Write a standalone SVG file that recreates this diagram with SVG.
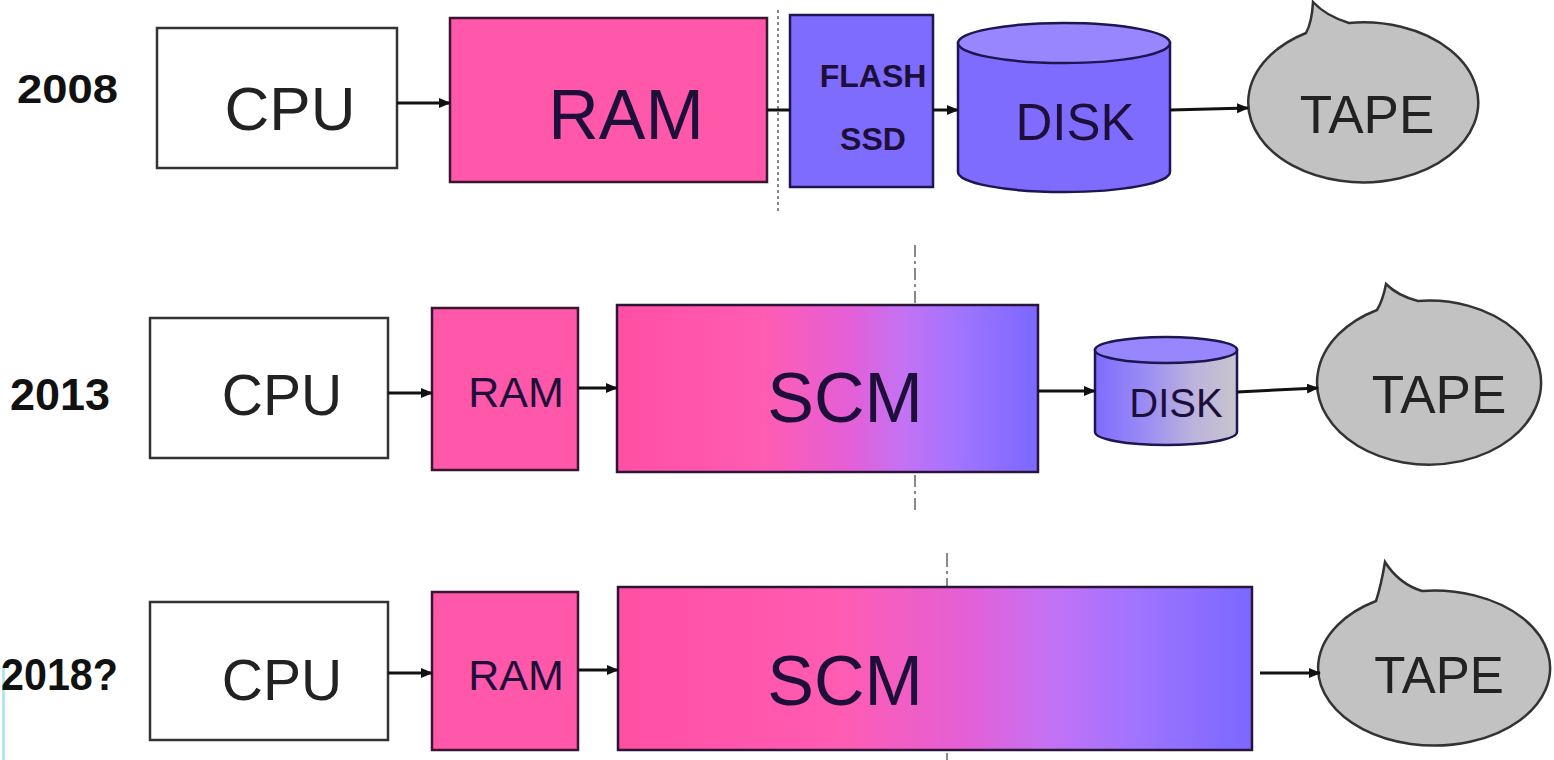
<svg xmlns="http://www.w3.org/2000/svg" width="1554" height="760" viewBox="0 0 1554 760">
  <defs>
    <linearGradient id="scm" x1="0" y1="0" x2="1" y2="0">
      <stop offset="0" stop-color="#ff4fa3"/>
      <stop offset="0.35" stop-color="#ff5cb2"/>
      <stop offset="0.55" stop-color="#e45fd6"/>
      <stop offset="0.68" stop-color="#c472f4"/>
      <stop offset="0.82" stop-color="#9f74ff"/>
      <stop offset="1" stop-color="#7a68ff"/>
    </linearGradient>
    <linearGradient id="disk2" x1="0" y1="0" x2="1" y2="0">
      <stop offset="0" stop-color="#7f6cff"/>
      <stop offset="0.35" stop-color="#9a8cf4"/>
      <stop offset="0.7" stop-color="#bcb4dc"/>
      <stop offset="1" stop-color="#c8c4cc"/>
    </linearGradient>
    <marker id="ah" markerWidth="12" markerHeight="10" refX="11" refY="5" orient="auto" markerUnits="userSpaceOnUse">
      <path d="M0,0 L12,5 L0,10 Z" fill="#111"/>
    </marker>
    <style>
      .lbl{font-family:"Liberation Sans",Arial,sans-serif;font-weight:bold;fill:#111}
      .t{font-family:"Liberation Sans",Arial,sans-serif;text-anchor:middle;fill:#222}
      .td{font-family:"Liberation Sans",Arial,sans-serif;text-anchor:middle;fill:#1e0f3a}
      .cpu{fill:#fff;stroke:#333;stroke-width:2.5}
      .ram{fill:#ff58aa;stroke:#3a1630;stroke-width:2.5}
      .blue{fill:#7e6cff;stroke:#1e1650;stroke-width:2.5}
      .bluetop{fill:#9886ff;stroke:#1e1650;stroke-width:2.5}
      .scm{fill:url(#scm);stroke:#2a1438;stroke-width:2.5}
      .tape{fill:#c2c2c2;stroke:#333;stroke-width:2.5}
      .conn line{stroke:#111;stroke-width:3}
      .arr{marker-end:url(#ah)}
      .div{stroke:#888;stroke-width:2;fill:none}
    </style>
  </defs>
  <rect width="1554" height="760" fill="#fff"/>
  <rect x="2" y="665" width="3" height="95" fill="#b4e6f0"/>

  <!-- year labels -->
  <g id="year-2008"><text class="lbl" x="17" y="103" font-size="40" textLength="101" lengthAdjust="spacingAndGlyphs">2008</text></g>
  <g id="year-2013"><text class="lbl" x="10" y="410" font-size="44" textLength="100" lengthAdjust="spacingAndGlyphs">2013</text></g>
  <g id="year-2018"><text class="lbl" x="1" y="690" font-size="44" textLength="117" lengthAdjust="spacingAndGlyphs">2018?</text></g>

  <!-- divider lines -->
  <g id="dividers">
    <line class="div" x1="778" y1="10" x2="778" y2="212" stroke-dasharray="3,3"/>
    <line class="div" x1="915" y1="245" x2="915" y2="512" stroke-dasharray="12,4,3,4"/>
    <line class="div" x1="947" y1="553" x2="947" y2="760" stroke-dasharray="14,4,3,4"/>
  </g>

  <!-- Row 2008 -->
  <g id="cpu-2008"><rect class="cpu" x="157" y="28" width="240" height="140"/><text class="t" x="290" y="130" font-size="62">CPU</text></g>
  <g id="ram-2008"><rect class="ram" x="450" y="18" width="317" height="164"/><text class="td" x="626" y="139" font-size="70">RAM</text></g>
  <g id="flash-2008"><rect class="blue" x="790" y="15" width="143" height="172"/>
    <text class="td" x="873" y="87" font-size="32" font-weight="bold">FLASH</text>
    <text class="td" x="873" y="150" font-size="32" font-weight="bold">SSD</text></g>
  <g id="disk-2008">
    <path class="blue" d="M958,43 V172 A106,20 0 0 0 1170,172 V43 Z"/>
    <ellipse class="bluetop" cx="1064" cy="43" rx="106" ry="20"/>
    <text class="td" x="1075" y="140" font-size="51">DISK</text></g>
  <g id="tape-2008">
    <path class="tape" d="M1306,33 A115,80 0 1 0 1349,23 Q1326,16 1313,2 Q1312,22 1306,33 Z"/>
    <text class="t" x="1367" y="133" font-size="53">TAPE</text></g>

  <!-- Row 2013 -->
  <g id="cpu-2013"><rect class="cpu" x="150" y="318" width="238" height="140"/><text class="t" x="282" y="415" font-size="57">CPU</text></g>
  <g id="ram-2013"><rect class="ram" x="432" y="308" width="146" height="162"/><text class="td" x="516" y="407" font-size="43">RAM</text></g>
  <g id="scm-2013"><rect class="scm" x="617" y="305" width="421" height="167"/><text class="td" x="845" y="422" font-size="70">SCM</text></g>
  <g id="disk-2013">
    <path d="M1095,350 V432 A71,13 0 0 0 1237,432 V350 Z" fill="url(#disk2)" stroke="#1e1650" stroke-width="2.5"/>
    <ellipse class="bluetop" cx="1166" cy="350" rx="71" ry="13"/>
    <text class="td" x="1176" y="417" font-size="40">DISK</text></g>
  <g id="tape-2013">
    <path class="tape" d="M1377,310 A112,82 0 1 0 1418,301 Q1398,296 1386,284 Q1383,300 1377,310 Z"/>
    <text class="t" x="1439" y="413" font-size="53">TAPE</text></g>

  <!-- Row 2018 -->
  <g id="cpu-2018"><rect class="cpu" x="150" y="602" width="238" height="138"/><text class="t" x="282" y="700" font-size="57">CPU</text></g>
  <g id="ram-2018"><rect class="ram" x="432" y="592" width="146" height="158"/><text class="td" x="516" y="690" font-size="43">RAM</text></g>
  <g id="scm-2018"><rect class="scm" x="618" y="587" width="634" height="163"/><text class="td" x="845" y="705" font-size="70">SCM</text></g>
  <g id="tape-2018">
    <path class="tape" d="M1376,601 A116,77.5 0 1 0 1422,591 Q1399,584 1385,562 Q1381,586 1376,601 Z"/>
    <text class="t" x="1439" y="693" font-size="51">TAPE</text></g>

  <!-- connectors -->
  <g id="connectors" class="conn">
    <line class="arr" x1="397" y1="103" x2="450" y2="103"/>
    <line x1="767" y1="110" x2="790" y2="110"/>
    <line class="arr" x1="933" y1="110" x2="958" y2="110"/>
    <line class="arr" x1="1170" y1="110" x2="1248" y2="108"/>
    <line class="arr" x1="388" y1="393" x2="432" y2="393"/>
    <line class="arr" x1="578" y1="388" x2="617" y2="388"/>
    <line class="arr" x1="1038" y1="391" x2="1095" y2="391"/>
    <line class="arr" x1="1237" y1="392" x2="1318" y2="388"/>
    <line class="arr" x1="388" y1="673" x2="432" y2="673"/>
    <line class="arr" x1="578" y1="670" x2="618" y2="670"/>
    <line class="arr" x1="1260" y1="673" x2="1320" y2="673"/>
  </g>
</svg>
